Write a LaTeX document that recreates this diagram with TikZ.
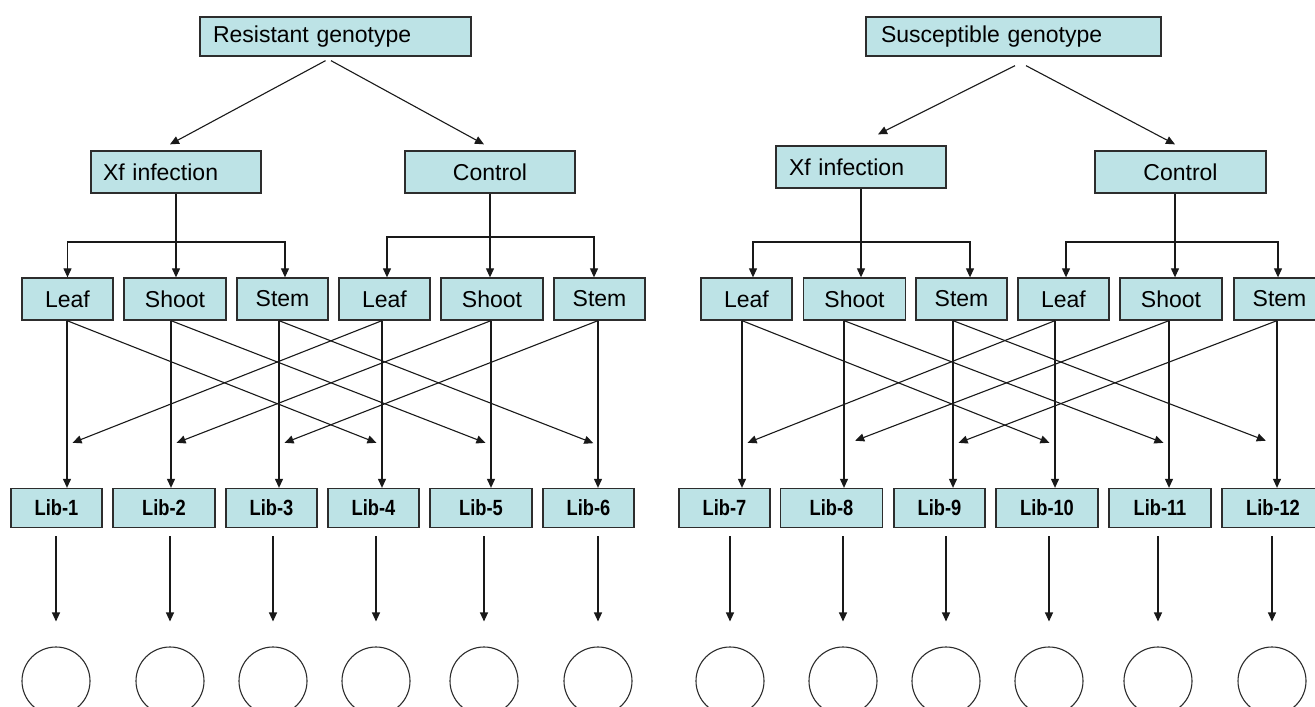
\documentclass[tikz,border=0pt]{standalone}
\usepackage{fontspec}
\setmainfont{Liberation Sans}
\newfontfamily\libfont[FakeStretch=0.83]{Liberation Sans}
\usetikzlibrary{arrows.meta,calc}
\definecolor{boxblue}{RGB}{189,227,230}
\definecolor{boxline}{RGB}{45,45,45}
\definecolor{linecol}{RGB}{25,25,25}
\begin{document}
\begin{tikzpicture}[x=1pt,y=-1pt,
  bx/.style={draw=boxline,fill=boxblue,line width=1.3pt,inner sep=0pt,
    minimum height=42pt,font=\fontsize{23}{27}\selectfont},
  ttl/.style={bx,minimum height=39pt,align=left,inner ysep=0pt},
  narrow/.style={bx,minimum width=91pt},
  wide/.style={bx,minimum width=102pt},
  libbox/.style={bx,minimum height=39pt,font=\libfont\fontsize{22}{26}\selectfont\bfseries},
  ring/.style={draw=boxline,line width=1.1pt,circle,minimum size=68pt,inner sep=0pt},
  arr/.style={draw=linecol,line width=1.1pt,-{Triangle[length=9pt,width=8pt]}},
  darr/.style={draw=linecol,line width=1.1pt,{Triangle[length=9pt,width=8pt]}-{Triangle[length=9pt,width=8pt]}}
]
\fill[white] (0,0) rectangle (1315,707);
\clip (0,0) rectangle (1315,707);

% top boxes
\node[ttl,text width=245pt,inner xsep=13pt] (R) at (335.5,36.5) {Resistant genotype};
\node[ttl,text width=265pt,inner xsep=15pt] (S) at (1013.5,36.5) {Susceptible genotype};

% treatment boxes
\node[bx,text width=146pt,inner xsep=12pt,align=left] (xfL) at (176,172) {Xf infection};
\node[bx,minimum width=170pt] (cL) at (490,172) {Control};
\node[bx,text width=144pt,inner xsep=13pt,align=left] (xfR) at (861,167) {Xf infection};
\node[bx,minimum width=171pt] (cR) at (1180.5,172) {Control};

% tissue boxes
\node[narrow] (m1) at (67.5,299) {Leaf};
\node[wide]   (m2) at (175,299) {Shoot};
\node[narrow] (m3) at (282.5,299) {Stem};
\node[narrow] (m4) at (384.5,299) {Leaf};
\node[wide]   (m5) at (492,299) {Shoot};
\node[narrow] (m6) at (599.5,299) {Stem};
\node[narrow] (m7) at (746.5,299) {Leaf};
\node[wide]   (m8) at (854.5,299) {Shoot};
\node[narrow] (m9) at (961.5,299) {Stem};
\node[narrow] (m10) at (1063.5,299) {Leaf};
\node[wide]   (m11) at (1171,299) {Shoot};
\node[narrow] (m12) at (1279.5,299) {Stem};

% library boxes
\node[libbox,minimum width=91pt]  (l1) at (56.5,508) {Lib-1};
\node[libbox,minimum width=102pt] (l2) at (164,508) {Lib-2};
\node[libbox,minimum width=91pt]  (l3) at (271.5,508) {Lib-3};
\node[libbox,minimum width=91pt]  (l4) at (373.5,508) {Lib-4};
\node[libbox,minimum width=102pt] (l5) at (481,508) {Lib-5};
\node[libbox,minimum width=91pt]  (l6) at (588.5,508) {Lib-6};
\node[libbox,minimum width=91pt]  (l7) at (724.5,508) {Lib-7};
\node[libbox,minimum width=102pt] (l8) at (831.5,508) {Lib-8};
\node[libbox,minimum width=91pt]  (l9) at (939.5,508) {Lib-9};
\node[libbox,minimum width=102pt] (l10) at (1047,508) {Lib-10};
\node[libbox,minimum width=102pt] (l11) at (1160,508) {Lib-11};
\node[libbox,minimum width=102pt] (l12) at (1273,508) {Lib-12};

% circles
\foreach \i/\x in {1/56,2/170,3/273,4/376,5/484,6/598,7/730,8/843,9/946,10/1049,11/1158,12/1272}
  \node[ring] (c\i) at (\x,681) {};

% genotype -> treatment
\draw[arr] ([xshift=-10pt,yshift=-4pt]R.south) -- ([xshift=-6pt,yshift=6pt]xfL.north);
\draw[arr] ([xshift=-4.5pt,yshift=-4pt]R.south) -- ([xshift=-6pt,yshift=6pt]cL.north);
\draw[arr] ([xshift=1.5pt,yshift=-9pt]S.south) -- ([xshift=17pt,yshift=11pt]xfR.north);
\draw[arr] ([xshift=12.5pt,yshift=-9pt]S.south) -- ([xshift=-5.5pt,yshift=6pt]cR.north);

% treatment -> tissues
\coordinate (yb1) at (0,242);
\coordinate (yb2) at (0,237);
\coordinate (d1) at (m1.north);
\coordinate (d3) at ([xshift=2.5pt]m3.north);
\coordinate (d4) at ([xshift=2.5pt]m4.north);
\coordinate (d6) at ([xshift=-5.5pt]m6.north);
\coordinate (d7) at ([xshift=6.5pt]m7.north);
\coordinate (d9) at ([xshift=8.5pt]m9.north);
\coordinate (d10) at ([xshift=2.5pt]m10.north);
\coordinate (d12) at ([xshift=-1.5pt]m12.north);
\coordinate (trR) at ([xshift=-5.5pt]cR.south);

\draw[arr] (xfL.south) -- (xfL.south |- m2.north);
\draw[darr] (d1) |- (yb1 -| d3) -- (d3);
\draw[arr] (cL.south) -- (cL.south |- m5.north);
\draw[darr] (d4) |- (yb2 -| d6) -- (d6);
\draw[arr] (xfR.south) -- (xfR.south |- m8.north);
\draw[darr] (d7) |- (yb1 -| d9) -- (d9);
\draw[arr] (trR) -- (trR |- m11.north);
\draw[darr] (d10) |- (yb1 -| d12) -- (d12);

% tissues -> libraries
\foreach \i/\x in {1/67,2/171,3/279,4/382,5/491,6/598,7/742,8/844,9/953,10/1055,11/1169,12/1277}
  \coordinate (t\i) at (\x,445);
\foreach \i in {1,...,12}
  \draw[arr] (t\i |- m\i.south) -- (t\i |- l\i.north);
\foreach \a/\b/\s in {1/4/6,2/5/6,3/6/5,4/1/6,5/2/6,6/3/6,7/10/6,8/11/6,9/12/12,10/7/6,11/8/12,12/9/6}
  \draw[arr,shorten >=\s pt] (t\a |- m\a.south) -- (t\b);

% libraries -> circles
\foreach \i in {1,...,12}
  \draw[arr,shorten <=8pt,shorten >=25pt] (c\i.north |- l\i.south) -- (c\i.north);
\end{tikzpicture}
\end{document}
